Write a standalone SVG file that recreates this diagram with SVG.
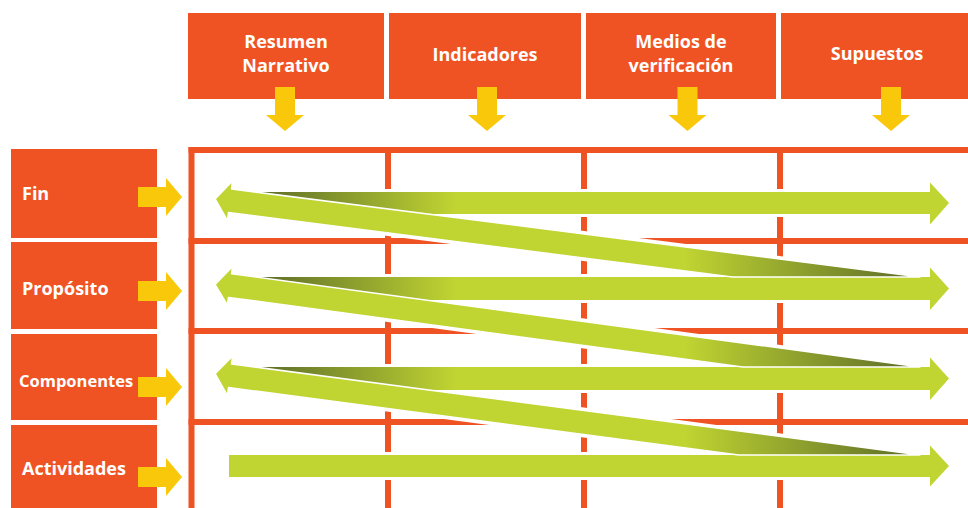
<svg xmlns="http://www.w3.org/2000/svg" xmlns:xlink="http://www.w3.org/1999/xlink" width="968" height="508" viewBox="0 0 968 508">
<style>
.box{fill:#f05323}
.hd{font-family:"Open Sans","Liberation Sans",sans-serif;font-weight:700;font-size:18px;fill:#ffffff;text-anchor:middle}
.lb{font-family:"Open Sans","Liberation Sans",sans-serif;font-weight:700;font-size:18px;fill:#ffffff}
.ya{fill:#fac80b}
.grid{stroke:#f05323;stroke-width:6;fill:none}
.halo{fill:#ffffff;stroke:#ffffff;stroke-width:6;stroke-linejoin:round}
.sep{stroke:#ffffff;stroke-width:1.5;stroke-linejoin:round}
</style>
<defs>
<linearGradient id="gh" gradientUnits="userSpaceOnUse" x1="255" y1="0" x2="455" y2="0">
<stop offset="0" stop-color="#5a6a28"/><stop offset="1" stop-color="#c0d432"/>
</linearGradient>
<linearGradient id="gd" gradientUnits="userSpaceOnUse" x1="685" y1="0" x2="920" y2="0">
<stop offset="0" stop-color="#c0d432"/><stop offset="1" stop-color="#5a6a28"/>
</linearGradient>
<polygon id="h1" points="252,192 930,192 930,182.5 949,203 930,224.5 930,214 252,214"/>
<polygon id="h2" points="252,277 930,277 930,267.5 949,288.5 930,310 930,300 252,300"/>
<polygon id="h3" points="252,367 930,367 930,357.5 949,378.5 930,400 930,390 252,390"/>
<polygon id="h4" points="229,455 930,455 930,445.5 949,466 930,486.5 930,477 229,477"/>
<polygon id="d1" points="215.1,198.9 232.5,181 231.5,189 920,277 732.3,277 228.5,212.6 227.5,220.6"/>
<polygon id="d2" points="215.1,284.6 232.5,266.5 231.5,273.8 920,367 742.8,367 228.5,297.4 227.3,305"/>
<polygon id="d3" points="215.1,373.7 232.6,355.9 231.5,363.9 920,455 738.7,455 228.5,387.5 227.4,395.5"/>
</defs>

<g id="header-resumen">
<rect class="box" x="188" y="13" width="196" height="86"/>
<text class="hd" x="286" y="48">Resumen</text>
<text class="hd" x="286" y="72">Narrativo</text>
</g>
<g id="header-indicadores">
<rect class="box" x="389" y="13" width="192" height="86"/>
<text class="hd" x="485" y="61">Indicadores</text>
</g>
<g id="header-medios">
<rect class="box" x="586" y="13" width="190" height="86"/>
<text class="hd" x="681" y="48">Medios de</text>
<text class="hd" x="681" y="72">verificación</text>
</g>
<g id="header-supuestos">
<rect class="box" x="781" y="13" width="187" height="86"/>
<text class="hd" x="877" y="60">Supuestos</text>
</g>

<g id="row-fin">
<rect class="box" x="11" y="149" width="146" height="89"/>
<text class="lb" x="22" y="200">Fin</text>
</g>
<g id="row-proposito">
<rect class="box" x="11" y="242" width="146" height="87"/>
<text class="lb" x="22" y="295">Propósito</text>
</g>
<g id="row-componentes">
<rect class="box" x="11" y="334" width="146" height="86"/>
<text class="lb" x="19" y="387" style="font-size:16.5px">Componentes</text>
</g>
<g id="row-actividades">
<rect class="box" x="11" y="425" width="146" height="83"/>
<text class="lb" x="22" y="475">Actividades</text>
</g>

<g id="grid">
<line class="grid" x1="188.5" y1="150" x2="968" y2="150"/>
<line class="grid" x1="188.5" y1="241" x2="968" y2="241"/>
<line class="grid" x1="188.5" y1="331" x2="968" y2="331"/>
<line class="grid" x1="188.5" y1="422" x2="968" y2="422"/>
<line class="grid" x1="191.5" y1="147" x2="191.5" y2="508"/>
<line class="grid" x1="388" y1="150" x2="388" y2="508"/>
<line class="grid" x1="584" y1="150" x2="584" y2="508"/>
<line class="grid" x1="780" y1="150" x2="780" y2="508"/>
</g>

<g id="connectors">
<g id="yellow-arrows">
<polygon class="ya" points="275,87 295,87 295,115 304,115 285,131 266,115 275,115"/>
<polygon class="ya" points="477,87 497,87 497,115 506,115 487,131 468,115 477,115"/>
<polygon class="ya" points="677.5,87 697.5,87 697.5,115 706.5,115 687.5,131 668.5,115 677.5,115"/>
<polygon class="ya" points="881,87 901,87 901,115 910,115 891,131 872,115 881,115"/>
<polygon class="ya" points="138,187 166,187 166,178 182,197 166,216 166,207 138,207"/>
<polygon class="ya" points="138,281 166,281 166,272 182,291 166,310 166,301 138,301"/>
<polygon class="ya" points="138,377 166,377 166,368 182,387 166,406 166,397 138,397"/>
<polygon class="ya" points="138,467 166,467 166,458 182,477 166,496 166,487 138,487"/>
</g>
<g id="green-arrows">
<use xlink:href="#h1" class="halo"/>
<use xlink:href="#h2" class="halo"/>
<use xlink:href="#h3" class="halo"/>
<use xlink:href="#h4" class="halo"/>
<use xlink:href="#d1" class="halo"/>
<use xlink:href="#d2" class="halo"/>
<use xlink:href="#d3" class="halo"/>
<use xlink:href="#h1" fill="url(#gh)"/>
<use xlink:href="#h2" fill="url(#gh)"/>
<use xlink:href="#h3" fill="url(#gh)"/>
<use xlink:href="#h4" fill="#c0d432"/>
<use xlink:href="#d1" class="sep" fill="url(#gd)"/>
<use xlink:href="#d2" class="sep" fill="url(#gd)"/>
<use xlink:href="#d3" class="sep" fill="url(#gd)"/>
</g>
</g>
</svg>
